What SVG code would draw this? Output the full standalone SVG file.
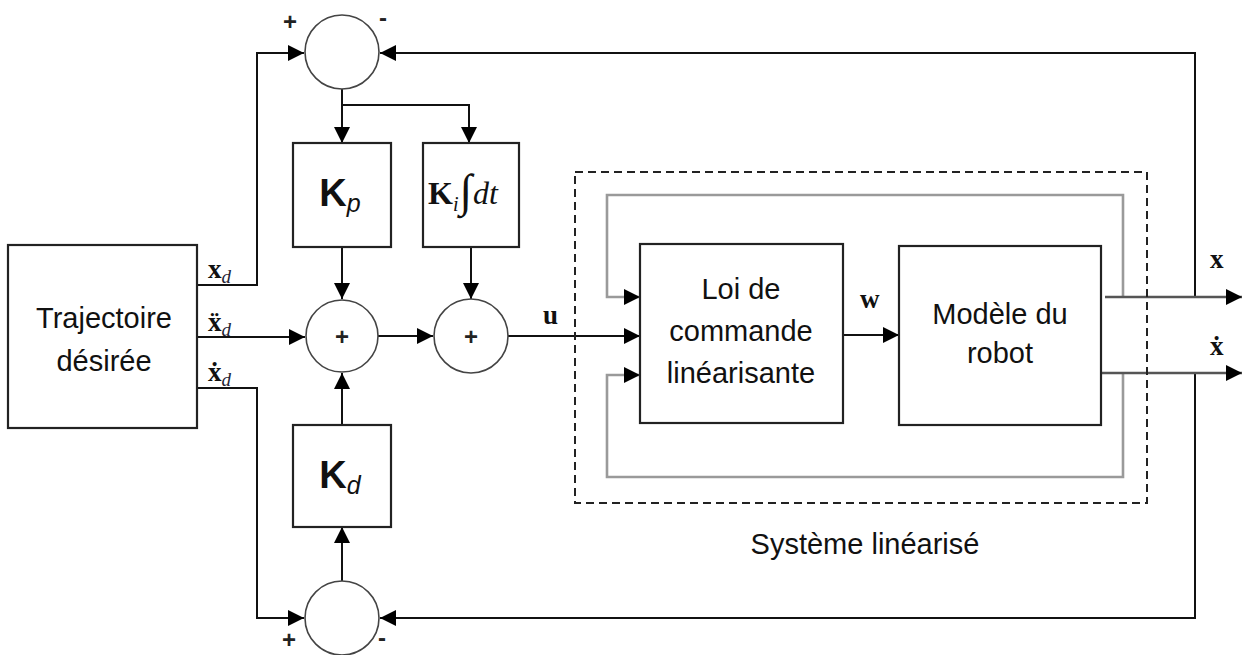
<svg xmlns="http://www.w3.org/2000/svg" width="1242" height="655" viewBox="0 0 1242 655">
<defs>
<marker id="ah" markerUnits="userSpaceOnUse" markerWidth="17" markerHeight="16" refX="16" refY="8" orient="auto">
<path d="M0,0 L16,8 L0,16 z" fill="#000"/>
</marker>
<style>
.box{fill:#fff;stroke:#222;stroke-width:2.2}
.sum{fill:#fff;stroke:#444;stroke-width:1.6}
.w{fill:none;stroke:#111;stroke-width:2}
.g{fill:none;stroke:#9a9a9a;stroke-width:2.6}
.o{fill:none;stroke:#555;stroke-width:2.4}
.lbl{font-family:"Liberation Sans",Arial,sans-serif;font-size:29px;fill:#111;text-anchor:middle}
.sign{font-family:"Liberation Sans",Arial,sans-serif;font-size:24px;font-weight:bold;fill:#222;text-anchor:middle}
.m{font-family:"Liberation Serif","DejaVu Serif",serif;font-weight:bold;font-size:27px;fill:#111}
.sub{font-family:"Liberation Serif","DejaVu Serif",serif;font-style:italic;font-weight:normal;font-size:19px;fill:#223}
.k{font-family:"Liberation Sans",Arial,sans-serif;font-size:38px;font-weight:bold;fill:#111;text-anchor:middle}
.ks{font-style:italic;font-weight:normal;font-size:25px}
</style>
</defs>
<rect width="1242" height="655" fill="#fff"/>

<g id="connectors">
<path class="w" d="M197,285 H257 V53 H304" marker-end="url(#ah)"/>
<path class="w" d="M197,337 H305" marker-end="url(#ah)"/>
<path class="w" d="M197,388 H257 V618 H304" marker-end="url(#ah)"/>
<path class="w" d="M1195,297 V53 H380" marker-end="url(#ah)"/>
<path class="w" d="M1195,373 V618 H380" marker-end="url(#ah)"/>
<path class="w" d="M342,89 V143" marker-end="url(#ah)"/>
<path class="w" d="M342,105 H469 V143" marker-end="url(#ah)"/>
<path class="w" d="M342,247 V299" marker-end="url(#ah)"/>
<path class="w" d="M471,247 V299" marker-end="url(#ah)"/>
<path class="w" d="M342,425 V373" marker-end="url(#ah)"/>
<path class="w" d="M342,581 V527" marker-end="url(#ah)"/>
<path class="w" d="M378,336 H433" marker-end="url(#ah)"/>
<path class="w" d="M508,336 H640" marker-end="url(#ah)"/>
<path class="w" d="M843,335 H899" marker-end="url(#ah)"/>
<path class="g" d="M1123,297 V195 H607 V297 H640" marker-end="url(#ah)"/>
<path class="g" d="M1123,373 V477 H607 V375 H640" marker-end="url(#ah)"/>
<path class="o" d="M1105,297 H1242" marker-end="url(#ah)"/>
<path class="o" d="M1101,373 H1242" marker-end="url(#ah)"/>
</g>

<g id="system">
<rect x="575" y="172" width="572" height="331" fill="none" stroke="#222" stroke-width="2" stroke-dasharray="8,5"/>
<text class="lbl" x="865" y="554">Système linéarisé</text>
</g>

<g id="traj">
<rect class="box" x="8" y="245" width="189" height="183"/>
<text class="lbl" x="104" y="328">Trajectoire</text>
<text class="lbl" x="104" y="371">désirée</text>
<text class="m" x="208" y="278">x<tspan class="sub" dy="5">d</tspan></text>
<text class="m" x="208" y="331">ẍ<tspan class="sub" dy="5">d</tspan></text>
<text class="m" x="208" y="381">ẋ<tspan class="sub" dy="5">d</tspan></text>
</g>

<g id="sum-top">
<circle class="sum" cx="342" cy="52" r="37"/>
<text class="sign" x="290" y="30">+</text>
<text class="sign" x="383" y="26">-</text>
</g>

<g id="kp">
<rect class="box" x="293" y="143" width="98" height="104"/>
<text class="k" x="340" y="206">K<tspan class="ks" dy="6">p</tspan></text>
</g>

<g id="ki">
<rect class="box" x="423" y="143" width="96" height="104"/>
<text x="428" y="204" font-family="Liberation Serif,DejaVu Serif,serif" font-size="32" fill="#111"><tspan font-weight="bold">K</tspan><tspan font-style="italic" font-size="20" dy="7">i</tspan><tspan dx="1" dy="-5" font-size="46">∫</tspan><tspan font-style="italic" dy="-2" dx="1">dt</tspan></text>
</g>

<g id="sum1">
<circle class="sum" cx="342" cy="336" r="36"/>
<text class="sign" x="342" y="345">+</text>
</g>

<g id="sum2">
<circle class="sum" cx="471" cy="336" r="37"/>
<text class="sign" x="471" y="345">+</text>
<text class="m" x="543" y="324">u</text>
</g>

<g id="kd">
<rect class="box" x="293" y="425" width="98" height="102"/>
<text class="k" x="340" y="488">K<tspan class="ks" dy="6">d</tspan></text>
</g>

<g id="sum-bottom">
<circle class="sum" cx="342" cy="618" r="37"/>
<text class="sign" x="289" y="648">+</text>
<text class="sign" x="382" y="646">-</text>
</g>

<g id="loi">
<rect class="box" x="640" y="244" width="203" height="179"/>
<text class="lbl" x="741" y="299">Loi de</text>
<text class="lbl" x="741" y="341">commande</text>
<text class="lbl" x="741" y="383">linéarisante</text>
<text class="m" x="860" y="308">w</text>
</g>

<g id="modele">
<rect class="box" x="899" y="246" width="202" height="179"/>
<text class="lbl" x="1000" y="324">Modèle du</text>
<text class="lbl" x="1000" y="363">robot</text>
</g>

<g id="outputs">
<text class="m" x="1210" y="268">x</text>
<text class="m" x="1210" y="355">ẋ</text>
</g>
</svg>
